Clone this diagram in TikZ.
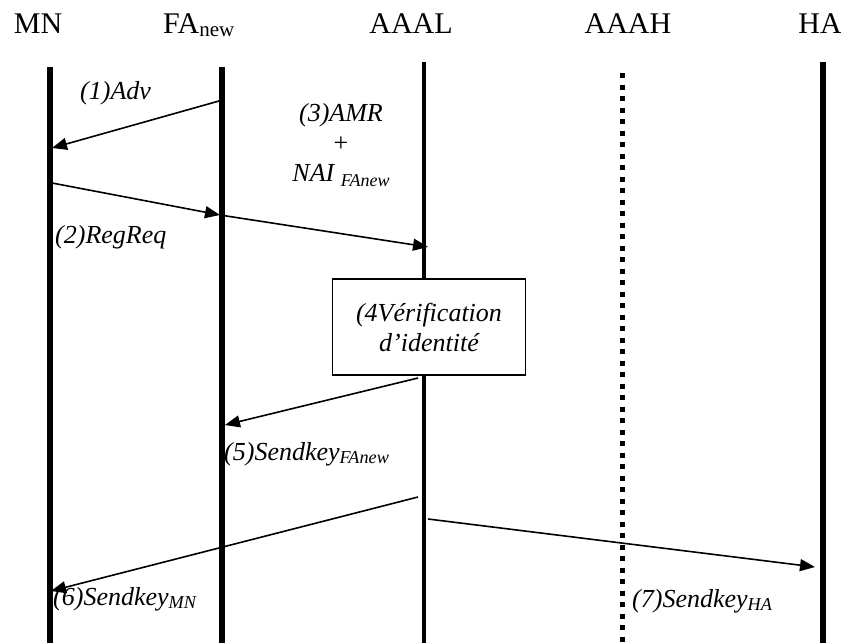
\documentclass[tikz,border=0pt]{standalone}
\usepackage{fontspec}
\setmainfont{Liberation Serif}
\usetikzlibrary{positioning, arrows.meta}

\begin{document}
\begin{tikzpicture}[
  x=1pt, y=-1pt,
  head/.style={font=\fontsize{30}{32}\selectfont, anchor=base, inner sep=0pt},
  msg/.style={font=\fontsize{26}{30}\selectfont\itshape, inner sep=0pt},
  life/.style={line width=6pt},
  lifethin/.style={line width=4.5pt},
  lifedot/.style={line width=5pt, dash pattern=on 5pt off 6.5pt},
  arr/.style={-{Triangle[length=15pt,width=12pt]}, line width=1.6pt},
  verif/.style={draw, line width=1.5pt, fill=white, minimum width=193pt,
                minimum height=96pt, align=center, inner sep=2pt},
]
\useasboundingbox (0,0) rectangle (841,643);

% --- entities ---
\node[head] (mn) at (38,33) {MN};
\node[head] (fa) at (199,33) {FA\textsubscript{new}};
\node[head] (aaal) at (411,33) {AAAL};
\node[head] (aaah) at (628,33) {AAAH};
\node[head] (ha) at (820,33) {HA};

% --- lifelines ---
\coordinate (mnTop) at (50,67);   \coordinate (mnBot) at (50,643);
\coordinate (faTop) at (222,67);  \coordinate (faBot) at (222,643);
\coordinate (aaalTop) at (424,62); \coordinate (aaalBot) at (424,643);
\coordinate (aaahTop) at (622,73); \coordinate (aaahBot) at (622,643);
\coordinate (haTop) at (823,62);  \coordinate (haBot) at (823,643);
\draw[life] (mnTop) -- (mnBot);
\draw[life] (faTop) -- (faBot);
\draw[lifethin] (aaalTop) -- (aaalBot);
\draw[lifedot] (aaahTop) -- (aaahBot);
\draw[life] (haTop) -- (haBot);

% --- message end points ---
\coordinate (fa1) at (219,101);  \coordinate (mn1) at (52,148);
\coordinate (mn2) at (52,183);   \coordinate (fa2) at (220,215);
\coordinate (aaal3) at (428,247);
\coordinate (aaal5) at (418,378); \coordinate (fa5) at (225,425);
\coordinate (aaal6) at (418,497); \coordinate (mn6) at (51,591);
\coordinate (aaal7) at (428,519); \coordinate (ha7) at (815,567);

% --- messages ---
\draw[arr] (fa1) -- (mn1);
\node[msg, anchor=base west] (adv) at (80,99) {(1)Adv};
\draw[arr] (mn2) -- (fa2);
\node[msg, anchor=base west] (regreq) at (55,243) {(2)RegReq};
\draw[arr] (fa2) -- (aaal3);
\node[msg, align=center] (amr) at (341,145)
  {(3)AMR\\ {\upshape +}\\ NAI {\fontsize{18}{18}\selectfont\raisebox{-5pt}{FAnew}}};

% --- identity check ---
\node[verif, msg] (verif) at (429,327) {(4Vérification\\ d’identité};

\draw[arr] (aaal5) -- (fa5);
\node[msg, anchor=base west] (sk5) at (224,460) {(5)Sendkey\textsubscript{FAnew}};
\draw[arr] (aaal6) -- (mn6);
\node[msg, anchor=base west] (sk6) at (53,605) {(6)Sendkey\textsubscript{MN}};
\draw[arr] (aaal7) -- (ha7);
\node[msg, anchor=base west] (sk7) at (632,607) {(7)Sendkey\textsubscript{HA}};

\end{tikzpicture}
\end{document}
